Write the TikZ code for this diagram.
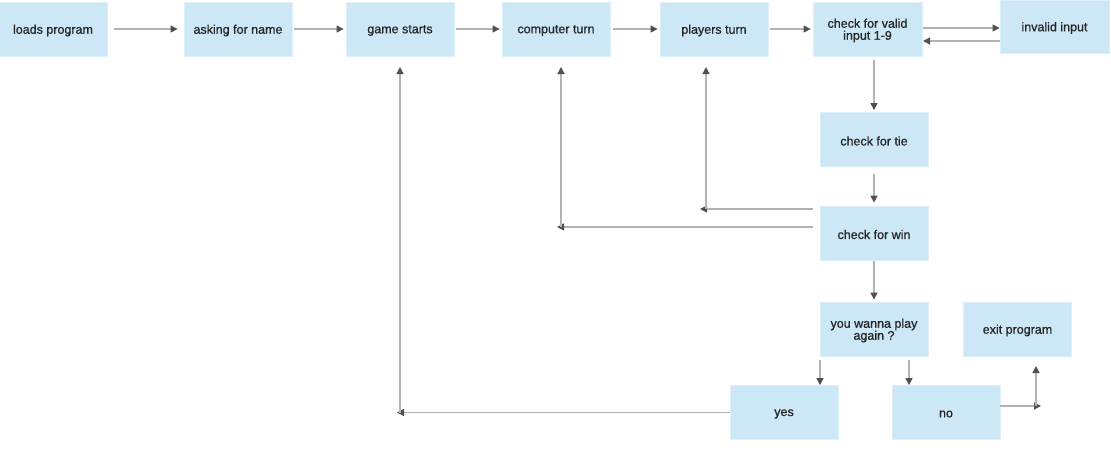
\documentclass[tikz,border=0pt]{standalone}
\usepackage{fontspec}
\setmainfont{Liberation Sans}
\usetikzlibrary{arrows.meta,calc}
\definecolor{boxfill}{HTML}{CCE7F5}
\definecolor{boxline}{HTML}{DDEFF9}
\definecolor{lnk}{HTML}{B3B3B3}
\definecolor{tipc}{HTML}{505050}
\definecolor{txt}{HTML}{262626}
\begin{document}
\begin{tikzpicture}[x=1pt,y=-1pt,
  box/.style={draw=boxline,fill=boxfill,line width=0.8pt,minimum width=108pt,minimum height=54pt,inner sep=0pt,
    label={[lbl]center:{#1}}},
  lbl/.style={align=center,text=txt,yshift=-1.5pt,inner sep=0pt,font=\fontsize{12.5}{12}\selectfont\addfontfeature{FakeBold=0.8}},
  arr/.style={draw=lnk,line width=1.3pt,-{Triangle[length=7pt,width=7pt,color=tipc]}}]
\useasboundingbox[fill=white] (0,0) rectangle (1111,456);
\node[box={loads program}] (load) at (53,29) {};
\node[box={asking for name}] (ask) at (238,29) {};
\node[box={game starts}] (game) at (400,29) {};
\node[box={computer turn}] (comp) at (556,29) {};
\node[box={players turn}] (play) at (714,29) {};
\node[box={check for valid\\input 1-9},minimum width=109pt] (valid) at (867.5,29) {};
\node[box={invalid input},minimum width=109pt,minimum height=53pt] (invalid) at (1054.5,26.5) {};
\node[box={check for tie}] (tie) at (874,139.5) {};
\node[box={check for win}] (win) at (874,233) {};
\node[box={you wanna play\\again ?}] (again) at (874,329) {};
\node[box={exit program}] (exitp) at (1017.5,329) {};
\node[box={yes}] (yes) at (784,412.5) {};
\node[box={no}] (no) at (946,412.5) {};
% top row
\draw[arr] ([xshift=7pt]load.east) -- ([xshift=-6pt]ask.west);
\draw[arr] ([xshift=2pt]ask.east) -- ([xshift=-2pt]game.west);
\draw[arr] ([xshift=2pt]game.east) -- ([xshift=-2pt]comp.west);
\draw[arr] ([xshift=3pt]comp.east) -- ([xshift=-2pt]play.west);
\draw[arr] ([xshift=2pt]play.east) -- ([xshift=-2pt]valid.west);
\coordinate (v1) at (923,28);
\coordinate (v2) at (923,41);
\draw[arr] (v1) -- (invalid.west |- v1);
\draw[arr] (invalid.west |- v2) -- (v2);
% down column
\coordinate (vd) at (874,60);
\draw[arr] (vd) -- ([yshift=2pt]tie.north);
\draw[arr] ([yshift=-7pt]tie.south) -- ([yshift=3pt]win.north);
\draw[arr] ([yshift=-1pt]win.south) -- ([yshift=2pt]again.north);
% returns
\coordinate (p1) at (813,209);
\coordinate (p2) at (700,209);
\coordinate (p3) at (706,209);
\coordinate (p4) at (706,67);
\draw[arr] (p1) -- (p2);
\draw[arr] (p3) -- (p4);
\coordinate (c1) at (813,227);
\coordinate (c2) at (557,227);
\coordinate (c3) at (561,227);
\coordinate (c4) at (561,67);
\draw[arr] (c1) -- (c2);
\draw[arr] (c3) -- (c4);
\coordinate (g2) at (397,412.5);
\coordinate (g3) at (400,412.5);
\coordinate (g4) at (400,67);
\draw[arr] (yes.west) -- (g2);
\draw[arr] (g3) -- (g4);
% again branches
\coordinate (a1) at (820,360);
\coordinate (a2) at (909,360);
\draw[arr] (a1) -- (a1 |- yes.north);
\draw[arr] (a2) -- (a2 |- no.north);
% no -> exit
\coordinate (n1) at (1000,406);
\coordinate (n2) at (1041,406);
\coordinate (n3) at (1036,406);
\coordinate (n4) at (1036,366);
\draw[arr] (n1) -- (n2);
\draw[arr] (n3) -- (n4);
\end{tikzpicture}
\end{document}
